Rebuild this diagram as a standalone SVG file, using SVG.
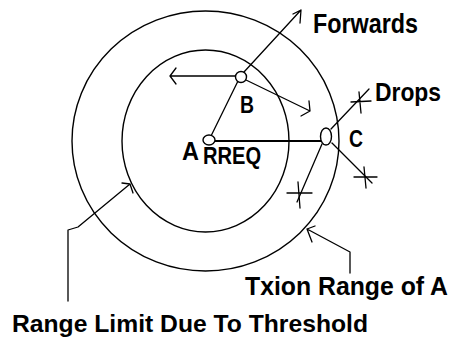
<svg xmlns="http://www.w3.org/2000/svg" width="452" height="339" viewBox="0 0 452 339">
<style>
.ln{fill:none;stroke:#000;stroke-width:1.3;stroke-linecap:round;stroke-linejoin:round}
.ring{fill:none;stroke:#000;stroke-width:1.4}
.nd{fill:#fff;stroke:#000;stroke-width:1.4}
.t{font-family:"Liberation Sans",Arial,sans-serif;font-weight:bold;fill:#000}
</style>
<rect width="452" height="339" fill="#fff"/>
<g id="ranges">
<ellipse class="ring" cx="205.5" cy="141" rx="133.5" ry="130"/>
<ellipse class="ring" cx="205.5" cy="141" rx="83.5" ry="91"/>
</g>
<g id="connectors">
<line x1="215" y1="141" x2="321" y2="141" stroke="#000" stroke-width="2"/>
<line class="ln" x1="211.5" y1="135" x2="238" y2="81"/>
<path class="ln" d="M235,76 L170,76 M176,68 L170,76 L176,84"/>
<path class="ln" d="M244,72 L301,10 M293,14 L301,10 L300,23"/>
<path class="ln" d="M246,80 L310,111 M309,101 L310,111 L301,116"/>
<line class="ln" x1="331" y1="129" x2="369" y2="89"/>
<line class="ln" x1="332" y1="143" x2="372" y2="183"/>
<line class="ln" x1="322" y1="144" x2="297" y2="202"/>
<path class="ln" d="M351,102 L371,101 M359,92 L361,113"/>
<path class="ln" d="M354,177 L377,177 M364,167 L366,188"/>
<path class="ln" d="M287,193 L312,193 M298,182 L300,208"/>
<path class="ln" d="M68,301 L68,230 L78,227 L130,184 M122,183 L130,184 L133,193"/>
<path class="ln" d="M350,273 L350,252 L307,229 M315,226 L307,229 L312,242"/>
</g>
<g id="node-A"><ellipse class="nd" cx="209" cy="140" rx="6" ry="5"/><text class="t" x="182" y="160" font-size="25" textLength="17" lengthAdjust="spacingAndGlyphs">A</text></g>
<g id="node-B"><circle class="nd" cx="241" cy="77" r="5.5"/><text class="t" x="240" y="113" font-size="24" textLength="14" lengthAdjust="spacingAndGlyphs">B</text></g>
<g id="node-C"><ellipse class="nd" cx="326" cy="136.5" rx="5.5" ry="8.5"/><text class="t" x="349" y="147" font-size="24" textLength="14" lengthAdjust="spacingAndGlyphs">C</text></g>
<g id="labels">
<text class="t" x="203" y="164" font-size="23" textLength="58" lengthAdjust="spacingAndGlyphs">RREQ</text>
<text class="t" x="313" y="33" font-size="27" textLength="105" lengthAdjust="spacingAndGlyphs">Forwards</text>
<text class="t" x="375" y="101" font-size="25" textLength="66" lengthAdjust="spacingAndGlyphs">Drops</text>
<text class="t" x="245" y="295" font-size="25" textLength="203" lengthAdjust="spacingAndGlyphs">Txion Range of A</text>
<text class="t" x="12" y="332" font-size="24" textLength="356" lengthAdjust="spacingAndGlyphs">Range Limit Due To Threshold</text>
</g>
</svg>
